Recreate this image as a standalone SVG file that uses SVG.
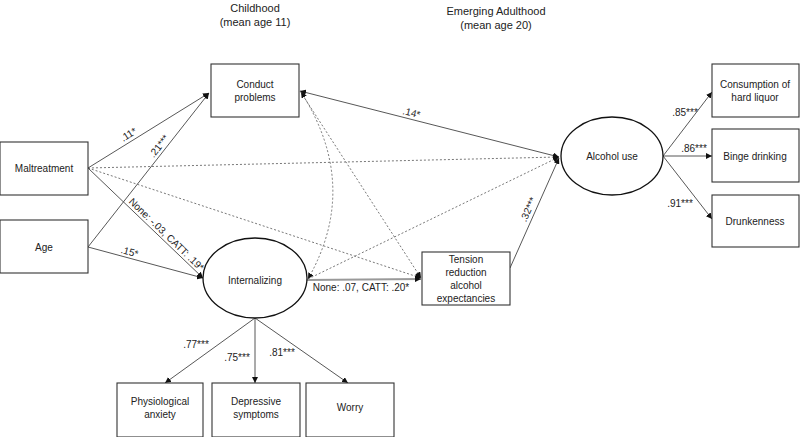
<svg xmlns="http://www.w3.org/2000/svg" width="800" height="437" viewBox="0 0 800 437">
<style>
text{font-family:"Liberation Sans",Arial,sans-serif;font-size:10px;fill:#222;text-anchor:middle}
.hd{font-size:11px}
.box{fill:#fff;stroke:#333;stroke-width:1.1}
.ell{fill:#fff;stroke:#111;stroke-width:1.3}
.ln{fill:none;stroke:#444;stroke-width:0.9}
.ds{fill:none;stroke:#555;stroke-width:0.8;stroke-dasharray:2 2}
.gr{fill:none;stroke:#999;stroke-width:1.8}
</style>
<defs>
<marker id="ah" viewBox="0 0 10 10" refX="10" refY="5" markerWidth="6" markerHeight="6" markerUnits="userSpaceOnUse" orient="auto-start-reverse">
<path d="M0,0 L10,5 L0,10 z" fill="#111"/>
</marker>
</defs>
<g id="headers">
<text class="hd" x="255" y="12">Childhood</text>
<text class="hd" x="255" y="26">(mean age 11)</text>
<text class="hd" x="496" y="15">Emerging Adulthood</text>
<text class="hd" x="496" y="29">(mean age 20)</text>
</g>
<g id="connectors">
<line class="ln" x1="88" y1="168" x2="209" y2="93" marker-end="url(#ah)"/>
<line class="ln" x1="88" y1="247" x2="209" y2="93" marker-end="url(#ah)"/>
<line class="ln" x1="88" y1="168" x2="203" y2="278" marker-end="url(#ah)"/>
<line class="ln" x1="88" y1="247" x2="203" y2="278" marker-end="url(#ah)"/>
<line class="ds" x1="88" y1="168" x2="559" y2="157" marker-end="url(#ah)"/>
<line class="ds" x1="88" y1="168" x2="421" y2="278" marker-end="url(#ah)"/>
<line class="ln" x1="300" y1="91" x2="559" y2="157" marker-start="url(#ah)" marker-end="url(#ah)"/>
<line class="ds" x1="300" y1="91" x2="421" y2="278" marker-end="url(#ah)"/>
<path class="ds" d="M301,92 Q361,186 308,279" marker-start="url(#ah)" marker-end="url(#ah)"/>
<line class="ds" x1="308" y1="279" x2="559" y2="157" marker-end="url(#ah)"/>
<line class="gr" x1="307" y1="280" x2="421" y2="279" marker-end="url(#ah)"/>
<line class="ln" x1="510" y1="268" x2="559" y2="158" marker-end="url(#ah)"/>
<line class="ln" x1="663" y1="156" x2="712" y2="92" marker-end="url(#ah)"/>
<line class="ln" x1="663" y1="156" x2="712" y2="156" marker-end="url(#ah)"/>
<line class="ln" x1="663" y1="156" x2="712" y2="219" marker-end="url(#ah)"/>
<line class="ln" x1="255" y1="318" x2="165" y2="383" marker-end="url(#ah)"/>
<line class="ln" x1="255" y1="318" x2="255" y2="383" marker-end="url(#ah)"/>
<line class="ln" x1="255" y1="318" x2="348" y2="383" marker-end="url(#ah)"/>
</g>
<g id="maltreatment"><rect class="box" x="0" y="142" width="88" height="53"/><text x="44" y="172">Maltreatment</text></g>
<g id="age"><rect class="box" x="0" y="220" width="88" height="53"/><text x="44" y="251">Age</text></g>
<g id="conduct"><rect class="box" x="211" y="64" width="88" height="53"/><text x="255" y="88">Conduct</text><text x="255" y="101">problems</text></g>
<g id="internalizing"><ellipse class="ell" cx="255" cy="278" rx="52" ry="40"/><text x="255" y="284">Internalizing</text></g>
<g id="tension"><rect class="box" x="422" y="252" width="88" height="53"/><text x="466" y="263">Tension</text><text x="466" y="276">reduction</text><text x="466" y="289">alcohol</text><text x="466" y="302">expectancies</text></g>
<g id="alcohol"><ellipse class="ell" cx="612" cy="156" rx="51" ry="39"/><text x="612" y="160">Alcohol use</text></g>
<g id="liquor"><rect class="box" x="712" y="64" width="87" height="53"/><text x="755" y="88">Consumption of</text><text x="755" y="101">hard liquor</text></g>
<g id="binge"><rect class="box" x="712" y="129" width="87" height="53"/><text x="755" y="160">Binge drinking</text></g>
<g id="drunk"><rect class="box" x="712" y="195" width="87" height="52"/><text x="755" y="225">Drunkenness</text></g>
<g id="physio"><rect class="box" x="117" y="383" width="86" height="54"/><text x="160" y="405">Physiological</text><text x="160" y="418">anxiety</text></g>
<g id="depressive"><rect class="box" x="212" y="383" width="88" height="54"/><text x="256" y="405">Depressive</text><text x="256" y="418">symptoms</text></g>
<g id="worry"><rect class="box" x="306" y="383" width="88" height="54"/><text x="350" y="411">Worry</text></g>
<g id="labels">
<text transform="translate(132,140) rotate(-32)" y="-3">.11*</text>
<text transform="translate(164,150) rotate(-52)" y="-3">.21***</text>
<text transform="translate(162,239) rotate(44)" y="-3">None: -.03, CATT: .19*</text>
<text transform="translate(128,258) rotate(15)" y="-3">.15*</text>
<text transform="translate(410,119) rotate(14)" y="-3">.14*</text>
<text transform="translate(534,212) rotate(-66)" y="-3">.32***</text>
<text x="361" y="291">None: .07, CATT: .20*</text>
<text x="685" y="116">.85***</text>
<text x="694" y="152">.86***</text>
<text x="680" y="207">.91***</text>
<text x="196" y="348">.77***</text>
<text x="237" y="361">.75***</text>
<text x="282" y="356">.81***</text>
</g>
</svg>
